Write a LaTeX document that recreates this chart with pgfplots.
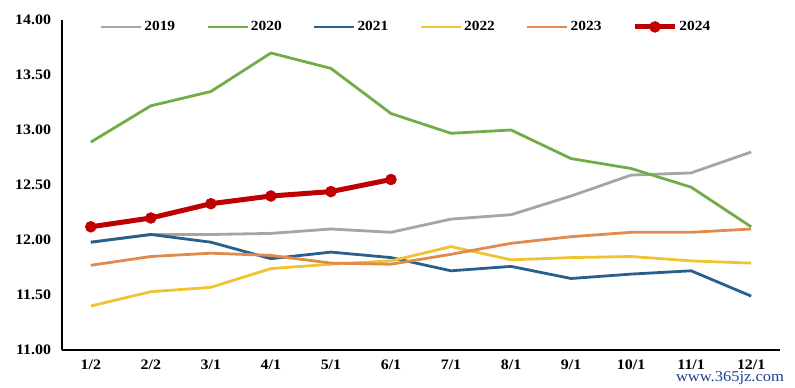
\documentclass[border=0pt]{standalone}
\usepackage{fontspec}
\setmainfont{Liberation Serif}[FakeStretch=1.1]
\usepackage{pgfplots}
\pgfplotsset{compat=1.18}
\definecolor{c19}{HTML}{A5A5A5}
\definecolor{c20}{HTML}{70AD47}
\definecolor{c21}{HTML}{2A5F8C}
\definecolor{c22}{HTML}{F0C330}
\definecolor{c23}{HTML}{E08A4E}
\definecolor{c24}{HTML}{BE0000}
\definecolor{wm}{HTML}{1F3F8F}
\begin{document}
\fontsize{14bp}{16bp}\selectfont\bfseries
\begin{tikzpicture}
\path[use as bounding box] (-62bp,-38bp) rectangle (733bp,350bp);
\begin{axis}[
  at={(0,0)}, anchor=south west,
  scale only axis, width=718bp, height=330bp,
  xmin=-0.48, xmax=11.48, ymin=11, ymax=14,
  axis x line=bottom, axis y line=left,
  axis line style={-, line width=1.6bp, black},
  xtick={0,...,11},
  xticklabels={1/2,2/2,3/1,4/1,5/1,6/1,7/1,8/1,9/1,10/1,11/1,12/1},
  ytick={11,11.5,...,14},
  major tick length=0pt,
  tick label style={font=\fontsize{14.5bp}{16bp}\selectfont\bfseries},
  /pgf/number format/assume math mode=true,
  yticklabel style={/pgf/number format/fixed, /pgf/number format/fixed zerofill, /pgf/number format/precision=2, xshift=-6bp},
  xticklabel style={yshift=-5bp},
  legend columns=6,
  legend style={at={(0.479,0.979)}, anchor=center, draw=none, fill=none,
    font=\fontsize{14bp}{16bp}\selectfont\bfseries,
    /tikz/every even column/.append style={column sep=29bp},
    inner sep=0pt},
  legend image code/.code={\draw[mark repeat=2,mark phase=2,#1] plot coordinates {(0bp,0bp) (20bp,0bp) (40bp,0bp)};},
  every axis plot/.append style={line width=2.8bp, line join=round},
]
\addplot[c19, no markers] coordinates {(0,11.98)(1,12.05)(2,12.05)(3,12.06)(4,12.10)(5,12.07)(6,12.19)(7,12.23)(8,12.40)(9,12.59)(10,12.61)(11,12.80)};
\addlegendentry{2019}
\addplot[c20, no markers] coordinates {(0,12.89)(1,13.22)(2,13.35)(3,13.70)(4,13.56)(5,13.15)(6,12.97)(7,13.00)(8,12.74)(9,12.65)(10,12.48)(11,12.12)};
\addlegendentry{2020}
\addplot[c21, no markers] coordinates {(0,11.98)(1,12.05)(2,11.98)(3,11.83)(4,11.89)(5,11.84)(6,11.72)(7,11.76)(8,11.65)(9,11.69)(10,11.72)(11,11.49)};
\addlegendentry{2021}
\addplot[c22, no markers] coordinates {(0,11.40)(1,11.53)(2,11.57)(3,11.74)(4,11.78)(5,11.81)(6,11.94)(7,11.82)(8,11.84)(9,11.85)(10,11.81)(11,11.79)};
\addlegendentry{2022}
\addplot[c23, no markers] coordinates {(0,11.77)(1,11.85)(2,11.88)(3,11.86)(4,11.79)(5,11.78)(6,11.87)(7,11.97)(8,12.03)(9,12.07)(10,12.07)(11,12.10)};
\addlegendentry{2023}
\addplot[c24, line width=5bp, mark=*, mark size=5.5bp, mark options={solid, line width=0.5bp, fill=c24}] coordinates {(0,12.12)(1,12.20)(2,12.33)(3,12.40)(4,12.44)(5,12.55)};
\addlegendentry{2024}
\end{axis}
\node[text=wm, font=\fontsize{15bp}{17bp}\selectfont\mdseries] at (668bp,-28bp) {www.365jz.com};
\end{tikzpicture}
\end{document}
